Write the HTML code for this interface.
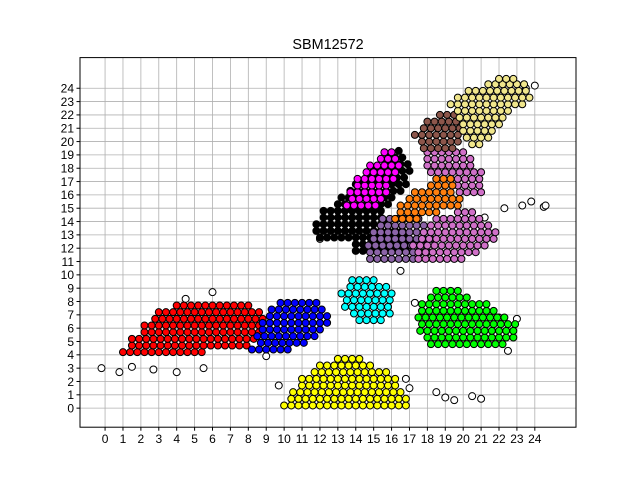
<!DOCTYPE html>
<html><head><meta charset="utf-8"><style>
body{margin:0;background:#fff;width:640px;height:480px;overflow:hidden;font-family:"Liberation Sans","DejaVu Sans",sans-serif}
</style></head><body>
<svg id="c" width="640" height="480" xmlns="http://www.w3.org/2000/svg"></svg>
<script>
const xTicks=[0,1,2,3,4,5,6,7,8,9,10,11,12,13,14,15,16,17,18,19,20,21,22,23,24];
const yTicks=[0,1,2,3,4,5,6,7,8,9,10,11,12,13,14,15,16,17,18,19,20,21,22,23,24];
const clusterNames=["red","blue","yellow","cyan","green","black","magenta","purple","orchid","orange","brown","khaki"];
const clusterColors=["#ff0000","#0000ff","#ffff00","#00ffff","#00ff00","#000000","#ff00ff","#8c64a8","#d070c8","#ff7f0e","#8c564b","#f0e68c"];
// rows: [y, xStart, xEnd]
const redRows=[[4.2,1,5.5],[4.7,1.3,8],[5.2,1.5,8.5],[5.7,2,8.8],[6.2,2.2,9],[6.7,2.6,9],[7.2,3,8.8],[7.7,3.8,8.3]];
const blueRows=[[4.4,8.2,10.5],[4.9,8.5,11.5],[5.4,8.5,12],[5.9,8.6,12.3],[6.4,8.8,12.5],[6.9,9,12.6],[7.4,9.3,12.2],[7.9,9.6,11.8]];
const yellowRows=[[0.2,10,17],[0.7,10.2,17],[1.2,10.5,16.8],[1.7,10.8,16.5],[2.2,11,16.5],[2.7,11.5,15.8],[3.2,12,15],[3.7,12.8,14.3]];
const cyanRows=[[6.6,14.2,15.6],[7.1,13.7,16],[7.6,13.4,16.2],[8.1,13.3,16.2],[8.6,13.2,16],[9.1,13.5,15.8],[9.6,13.8,15.3]];
const greenRows=[[4.8,18.2,22.5],[5.3,17.8,23],[5.8,17.6,23],[6.3,17.5,23.2],[6.8,17.5,22.5],[7.3,17.5,22],[7.8,17.7,21.5],[8.3,18,20.5],[8.8,18.5,19.8]];
const blackRows=[[11.8,14,17],[12.3,13.8,17.5],[12.8,12,17],[13.3,11.6,16.8],[13.8,11.8,16.2],[14.3,12,15.8],[14.8,12.2,15.8],[15.3,12.8,16],[15.8,13.2,16.2],[16.3,13.5,16.5],[16.8,14,16.8],[17.3,14.5,17],[17.8,15,17],[18.3,15.5,17],[18.8,15.8,16.8],[19.3,16.2,16.6]];
const magentaRows=[[15.2,13.5,15.2],[15.7,13.6,15.5],[16.2,13.7,15.8],[16.7,13.9,16],[17.2,14.1,16.2],[17.7,14.4,16.4],[18.2,14.8,16.5],[18.7,15.2,16.4],[19.2,15.6,16.3]];
const purpleRows=[[11.2,14.8,17.5],[11.7,14.6,18],[12.2,14.7,18.2],[12.7,14.8,18.2],[13.2,15,18],[13.7,15.2,17.8],[14.2,15.5,17.5]];
const orchidRows=[[11.2,17.5,20],[11.7,17.3,21],[12.2,17.2,21.5],[12.7,17.5,21.8],[13.2,17.8,21.8],[13.7,18,21.5],[14.2,18.5,21.2],[14.7,19.5,20.8],[16.2,19.8,21],[16.7,19.5,21.2],[17.2,18.5,21.2],[17.7,18,21],[18.2,18,20.5],[18.7,17.8,20.5],[19.2,18,20]];
const orangeRows=[[14.2,16.2,17.5],[14.7,16.3,18.5],[15.2,16.5,19.8],[15.7,16.8,20],[16.2,17.3,19.5],[16.7,18,19.5],[17.2,18.5,19.5]];
const brownRows=[[19.5,17.8,19.5],[20,17.5,19.8],[20.5,17.3,20],[21,17.6,20],[21.5,18,19.8],[22,18.5,19.8]];
const khakiRows=[[19.8,20.5,21.2],[20.3,20,21.5],[20.8,20,21.8],[21.3,19.8,22],[21.8,19.8,22.5],[22.3,19.5,22.8],[22.8,19.3,23.5],[23.3,19.5,23.8],[23.8,20.3,23.8],[24.3,21.2,23.5],[24.7,22,23]];
const outX=[-0.2,0.8,1.5,2.7,4,4.5,5.5,6,9,9.7,16.8,17,17.3,18.5,19,19.5,20.5,21,21.2,22.3,23.3,23.8,24.5,24.6,22.5,23,22,12,24,23.5,16.5];
const outY=[3,2.7,3.1,2.9,2.7,8.2,3,8.7,3.9,1.7,2.2,1.5,7.9,1.2,0.8,0.6,0.9,0.7,14.3,15,15.2,15.5,15.1,15.2,4.3,6.7,6.8,12.7,24.2,24,10.3];
const rowsByCluster=[redRows,blueRows,yellowRows,cyanRows,greenRows,blackRows,magentaRows,purpleRows,orchidRows,orangeRows,brownRows,khakiRows];

const NS="http://www.w3.org/2000/svg";
const svg=document.getElementById('c');
const L=80,R=576,T=57.6,B=427.2,xmin=-1.4,xmax=26.3,ymin=-1.43,ymax=26.3;
const sx=v=>L+(v-xmin)/(xmax-xmin)*(R-L);
const sy=v=>B-(v-ymin)/(ymax-ymin)*(B-T);
function mk(tag,attrs,parent){const e=document.createElementNS(NS,tag);for(const k in attrs)e.setAttribute(k,attrs[k]);(parent||svg).appendChild(e);return e;}
const grid=mk('g',{});


xTicks.forEach(t=>{mk('line',{x1:sx(t),x2:sx(t),y1:T,y2:B,stroke:'#b0b0b0','stroke-width':0.8},grid);});
yTicks.forEach(t=>{mk('line',{x1:L,x2:R,y1:sy(t),y2:sy(t),stroke:'#b0b0b0','stroke-width':0.8},grid);});
const pts=mk('g',{});


outX.forEach((x,i)=>{const c=mk('circle',{cx:sx(x),cy:sy(outY[i]),r:3.5,fill:'#fff',stroke:'#000','stroke-width':1},pts);

});
rowsByCluster.forEach((rows,ci)=>{
 const g=mk('g',{},pts);
 
 
 rows.forEach((r,ri)=>{for(let x=r[1]+(ri%2)*0.2;x<=r[2];x+=0.4){mk('circle',{cx:sx(x),cy:sy(r[0]),r:3.5,fill:clusterColors[ci],stroke:'#000','stroke-width':1},g);}});
});
const frame=mk('rect',{x:L,y:T,width:R-L,height:B-T,fill:'none',stroke:'#000','stroke-width':1});


const xa=mk('g',{});


xTicks.forEach(t=>{mk('line',{x1:sx(t),x2:sx(t),y1:B,y2:B+3.5,stroke:'#000'},xa);
 const tx=mk('text',{x:sx(t),y:B+16,'text-anchor':'middle','font-size':'12'},xa);tx.textContent=t;
 
 });
const ya=mk('g',{});


yTicks.forEach(t=>{mk('line',{x1:L-3.5,x2:L,y1:sy(t),y2:sy(t),stroke:'#000'},ya);
 const tx=mk('text',{x:L-6,y:sy(t)+4.3,'text-anchor':'end','font-size':'12'},ya);tx.textContent=t;
 
 });
const title=mk('text',{x:(L+R)/2,y:49,'text-anchor':'middle','font-size':'14.4'});
title.textContent='SBM12572';


</script>
</body></html>
